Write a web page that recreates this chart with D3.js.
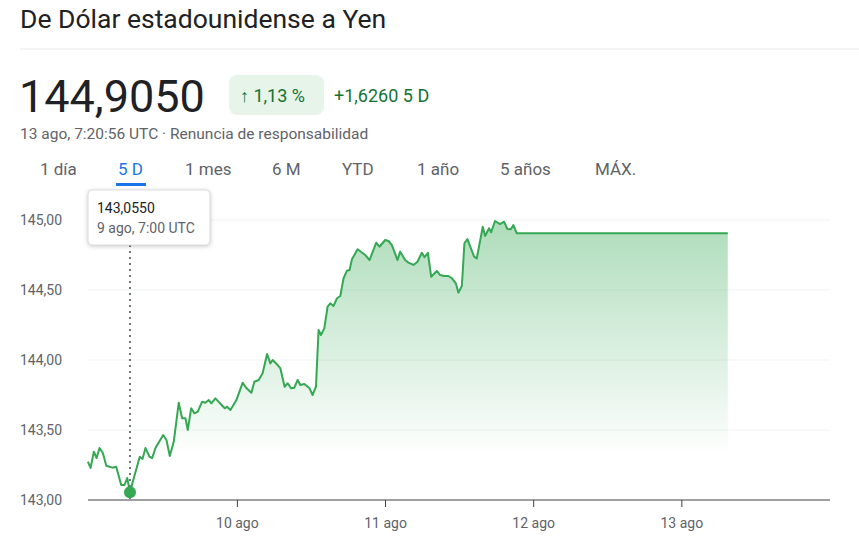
<!DOCTYPE html>
<html>
<head>
<meta charset="UTF-8">
<script src="https://cdn.jsdelivr.net/npm/d3@7"></script>
<style>
body { margin:0; background:#fff; font-family:Roboto, Arial, sans-serif; }
.tick-y { font-size:14px; fill:#5f6368; }
.tick-x { font-size:14px; fill:#5f6368; text-anchor:middle; }
</style>
</head>
<body>
<div id="chart"></div>
<script>
// hours relative to 10 ago 00:00 UTC
var hours = [-24.22,-23.79,-23.25,-22.81,-22.33,-21.79,-21.24,-20.27,-19.63,-18.82,-18.28,-17.85,-17.4,-16.78,-15.81,-15.37,-14.89,-14.24,-13.8,-13.27,-12.02,-11.49,-10.95,-10.31,-9.5,-8.95,-8.41,-8.04,-7.49,-6.96,-6.42,-5.71,-5.18,-4.64,-4.21,-3.56,-2.05,-1.67,-1.13,-0.16,0.86,1.41,2.27,2.75,3.45,4.09,4.81,5.34,5.71,6.52,6.96,7.65,8.14,8.69,9.22,9.76,10.19,10.84,11.7,12.18,12.73,13.15,13.54,14.08,14.61,15.05,15.58,16.13,16.67,17.2,17.75,18.17,18.56,19.47,20.71,21.41,22.49,23.02,23.95,24.48,25.03,25.94,26.37,27.18,27.72,28.53,29.17,29.88,30.31,30.86,31.39,32.31,32.85,33.49,34.19,34.74,35.39,35.81,36.36,36.78,37.26,38.35,38.78,39.75,40.13,40.77,41.1,41.74,42.55,43.2,43.74,44.29,44.71,45.26,79.44];
var rates = [143.274,143.229,143.345,143.30,143.371,143.336,143.245,143.231,143.238,143.107,143.107,143.157,143.055,143.157,143.309,143.293,143.371,143.309,143.30,143.371,143.464,143.429,143.314,143.416,143.695,143.584,143.584,143.50,143.655,143.619,143.631,143.702,143.695,143.714,143.691,143.726,143.655,143.666,143.643,143.714,143.838,143.802,143.766,143.845,143.857,143.905,144.043,143.976,144.0,143.964,143.941,143.809,143.834,143.798,143.802,143.857,143.821,143.829,143.798,143.75,143.809,144.214,144.179,144.226,144.381,144.405,144.386,144.441,144.457,144.584,144.638,144.643,144.719,144.791,144.75,144.714,144.838,144.809,144.857,144.85,144.821,144.714,144.774,144.714,144.695,144.679,144.702,144.766,144.734,144.766,144.595,144.636,144.607,144.60,144.60,144.584,144.548,144.481,144.529,144.834,144.864,144.738,144.726,144.952,144.886,144.941,144.912,144.993,144.971,144.988,144.936,144.934,144.964,144.905,144.905];
var yTicks = [143.0, 143.5, 144.0, 144.5, 145.0];
var xTicks = [0, 24, 48, 72];
var xTickLabels = ["10 ago", "11 ago", "12 ago", "13 ago"];
var tabs = ["1 día", "5 D", "1 mes", "6 M", "YTD", "1 año", "5 años", "MÁX."];
var tabX = [40, 118, 185, 272, 342, 417, 500, 595];
var hoverIndex = 12;

var W = 859, H = 549;
var svg = d3.select("#chart").append("svg").attr("width", W).attr("height", H);

// header
svg.append("text").attr("x", 20).attr("y", 28).attr("font-size", 26.5).attr("fill", "#202124").text("De Dólar estadounidense a Yen");
svg.append("line").attr("x1", 20).attr("x2", 859).attr("y1", 49).attr("y2", 49).attr("stroke", "#e8eaed");
svg.append("text").attr("x", 19).attr("y", 112).attr("font-size", 45).attr("fill", "#202124").text("144,9050");
svg.append("rect").attr("x", 229).attr("y", 75).attr("width", 95).attr("height", 40).attr("rx", 8).attr("fill", "#e6f4ea");
svg.append("text").attr("x", 240).attr("y", 102).attr("font-size", 18).attr("fill", "#137333").text("↑ 1,13 %");
svg.append("text").attr("x", 334).attr("y", 102).attr("font-size", 18).attr("fill", "#137333").text("+1,6260 5 D");
svg.append("text").attr("x", 20).attr("y", 139).attr("font-size", 15.5).attr("fill", "#5f6368").text("13 ago, 7:20:56 UTC · Renuncia de responsabilidad");

svg.selectAll("text.tab").data(tabs).enter().append("text")
    .attr("class", "tab")
    .attr("x", function (d, i) { return tabX[i]; })
    .attr("y", 175).attr("font-size", 17)
    .attr("fill", function (d) { return d == "5 D" ? "#1a73e8" : "#5f6368"; })
    .text(function (d) { return d; });
svg.append("rect").attr("x", 116).attr("y", 183).attr("width", 30).attr("height", 3).attr("fill", "#1a73e8");

// scales
var x = d3.scaleLinear().domain([-24.2, 96]).range([88, 830]);
var y = d3.scaleLinear().domain([143, 145]).range([500, 220]);

svg.selectAll("line.grid").data(yTicks).enter().append("line")
    .attr("x1", 88).attr("x2", 830)
    .attr("y1", function (d) { return y(d); }).attr("y2", function (d) { return y(d); })
    .attr("stroke", function (d) { return d == 143 ? "#3c4043" : "#f1f3f4"; });
svg.selectAll("text.tick-y").data(yTicks).enter().append("text")
    .attr("class", "tick-y").attr("x", 20)
    .attr("y", function (d) { return y(d) + 5; })
    .text(function (d) { return d.toFixed(2).replace(".", ","); });
svg.selectAll("line.xt").data(xTicks).enter().append("line")
    .attr("x1", function (d) { return x(d); }).attr("x2", function (d) { return x(d); })
    .attr("y1", 500).attr("y2", 507).attr("stroke", "#3c4043");
svg.selectAll("text.tick-x").data(xTicks).enter().append("text")
    .attr("class", "tick-x").attr("x", function (d) { return x(d); }).attr("y", 528)
    .text(function (d, i) { return xTickLabels[i]; });

var data = hours.map(function (h, i) { return { h: h, v: rates[i] }; });

var grad = svg.append("defs").append("linearGradient").attr("id", "g")
    .attr("gradientUnits", "userSpaceOnUse")
    .attr("x1", 0).attr("x2", 0).attr("y1", y(145)).attr("y2", y(143.3));
grad.append("stop").attr("offset", "0%").attr("stop-color", "#34a853").attr("stop-opacity", 0.4);
grad.append("stop").attr("offset", "100%").attr("stop-color", "#34a853").attr("stop-opacity", 0);

var area = d3.area().x(function (d) { return x(d.h); }).y0(y(143.3)).y1(function (d) { return y(d.v); });
svg.append("path").datum(data.filter(function (d) { return d.h >= hp0(); }))
    .attr("d", area).attr("fill", "url(#g)");
function hp0() { return hours[hoverIndex]; }
var line = d3.line().x(function (d) { return x(d.h); }).y(function (d) { return y(d.v); });
svg.append("path").datum(data).attr("d", line).attr("fill", "none")
    .attr("stroke", "#34a853").attr("stroke-width", 2).attr("stroke-linejoin", "round");

// hover
var hp = data[hoverIndex];
svg.append("line").attr("x1", x(hp.h)).attr("x2", x(hp.h)).attr("y1", 245).attr("y2", 500)
    .attr("stroke", "#70757a").attr("stroke-width", 2).attr("stroke-dasharray", "2,4");
svg.append("circle").attr("cx", x(hp.h)).attr("cy", y(hp.v)).attr("r", 6).attr("fill", "#34a853");
svg.append("rect").attr("x", 88).attr("y", 190).attr("width", 122).attr("height", 55).attr("rx", 4)
    .attr("fill", "#fff").attr("stroke", "#dadce0").style("filter", "drop-shadow(0 1px 2px rgba(0,0,0,0.2))");
svg.append("text").attr("x", 97).attr("y", 213).attr("font-size", 14).attr("fill", "#202124").text("143,0550");
svg.append("text").attr("x", 97).attr("y", 233).attr("font-size", 14).attr("fill", "#5f6368").text("9 ago, 7:00 UTC");
</script>
</body>
</html>
